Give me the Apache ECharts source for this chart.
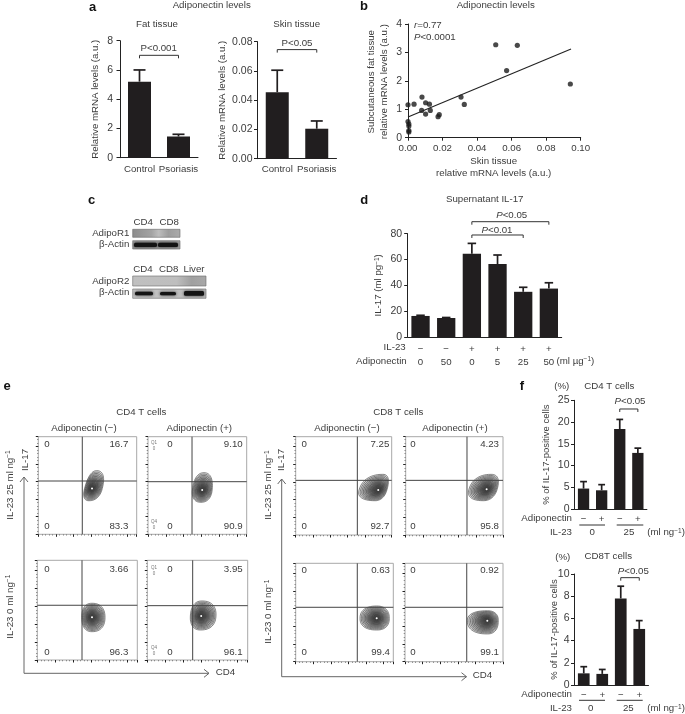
<!DOCTYPE html>
<html><head><meta charset="utf-8">
<style>html,body{margin:0;padding:0;background:#fff}#c{width:685px;height:714px;filter:blur(0.5px)}</style>
<script src="https://cdn.jsdelivr.net/npm/echarts@6/dist/echarts.min.js"></script></head>
<body><div id="c"></div>
<script>
// ---------- data ----------
const fatCategories = ['Control','Psoriasis'];
const fatMeans = [5.2,1.45];
const fatUpper = [6.0,1.6];
const skinMeans = [0.0455,0.0205];
const skinUpper = [0.0605,0.0258];
const scatterSkin = [0.0508,0.0633,0.0571,0.094,0.0307,0.0326,0.0081,0.0102,0.0124,0.0035,0,0.0079,0.0129,0.0102,0.0181,0.0174,0,0.0005,0.0005,0.0005,0.0005];
const scatterFat  = [3.27,3.25,2.36,1.89,1.43,1.17,1.43,1.23,1.18,1.18,1.16,0.96,0.96,0.83,0.81,0.74,0.57,0.48,0.41,0.25,0.2];
const fitLine = [[0,0.73],[0.0944,3.12]];
const il23Flags = ['−','−','+','+','+','+'];
const adipoDoses = ['0','50','0','5','25','50'];
const il17Means = [16.3,14.7,64.5,56.5,35,37.5];
const il17Upper = [16.8,15.1,72.5,63.5,38.5,42];
const signs = ['−','+','−','+'];
const cd4Means = [4.7,4.3,18.4,12.9];
const cd4Upper = [6.3,5.6,20.6,14.0];
const cd8Means = [1.05,1.0,7.8,5.05];
const cd8Upper = [1.65,1.4,8.9,5.8];
// flow plots: gate [x,y], outer contour [xmin,xmax,ymin,ymax], peak [x,y], lean
const gates = [[44.7,54.6],[44.6,53.9],[44.7,54.9],[45.2,54.5],[64.2,55.6],[63,55.6],[63.1,55.3],[63,55.3]];
const outers = [[47,65,34.4,65.2],[45,65,32.8,63.1],[44.4,67.7,28.4,56.9],[42.9,68.4,30.1,59.2],[66,95,34.9,61.7],[65,94,34.9,61.7],[65.9,95.9,32.2,56.6],[63.6,95.2,28.2,51.8]];
const peaks = [[54.6,46.8],[54.9,45.4],[54.7,42.8],[53.7,44.1],[86,45.8],[83.2,46.5],[83,44.1],[84,41.7]];
const leans = [0.25,0.1,0,0.05,0.3,0.3,0,0];
const ringScales = [1,0.92,0.84,0.76,0.68,0.6,0.53,0.47,0.41,0.35,0.3,0.25,0.2,0.15,0.1];
const upperRight = ['16.7','9.10','3.66','3.95','7.25','4.23','0.63','0.92'];
const lowerRight = ['83.3','90.9','96.3','96.1','92.7','95.8','99.4','99.1'];

// ---------- layout ----------
const FONT = 'Liberation Sans, Arial, sans-serif';
const INK = '#3c3c3c', BAR = '#211e1f';
const grid=[], xAxis=[], yAxis=[], series=[], graphic=[];
const supStyle = {fontSize:6.5, verticalAlign:'top', fill:INK, color:INK, fontFamily:FONT};
function richFor(size){return {
  i:{fontStyle:'italic',fontSize:size,fill:INK,color:INK,fontFamily:FONT},
  n:{fontSize:size,fill:INK,color:INK,fontFamily:FONT},
  s:supStyle};}
function T(x,y,text,o){o=o||{};const size=o.size||9.7;
  graphic.push({type:'text',x,y,rotation:o.rot||0,silent:true,z:50,style:{text,fontFamily:FONT,fontSize:size,fontWeight:o.weight||'normal',fill:o.fill||INK,
    align:o.align||'center',verticalAlign:'middle',rich:richFor(size)}});}
function L(points,o){o=o||{};graphic.push({type:'polyline',silent:true,z:40,shape:{points},style:{stroke:o.stroke||'#666',lineWidth:o.w||1,fill:null}});}

function barPanel(c){
  const gi=grid.length;
  grid.push({left:c.left,top:c.top,width:c.width,height:c.height});
  xAxis.push({gridIndex:gi,type:'category',data:c.cats,
    axisLine:{lineStyle:{color:'#222',width:1}},axisTick:{alignWithLabel:true,length:c.tick||2.5,lineStyle:{color:'#222'}},
    axisLabel:{interval:0,color:INK,fontFamily:FONT,fontSize:9.7,margin:c.labelMargin||5,lineHeight:c.lineHeight||12}});
  yAxis.push({gridIndex:gi,type:'value',min:0,max:c.max,interval:c.step,splitLine:{show:false},
    axisLine:{show:true,lineStyle:{color:'#222',width:1}},axisTick:{show:true,length:3.5,lineStyle:{color:'#222'}},
    axisLabel:{color:INK,fontFamily:FONT,fontSize:10.5,margin:c.tickMargin||5.5,formatter:c.fmt},
    name:c.name,nameLocation:'middle',nameGap:c.nameGap,nameMoveOverlap:false,nameTextStyle:{color:INK,fontFamily:FONT,fontSize:c.nameSize||9.7,rich:{s:{fontSize:6.5,verticalAlign:'top',color:INK,fontFamily:FONT},n:{fontSize:9.7,color:INK,fontFamily:FONT}}}});
  series.push({type:'bar',xAxisIndex:gi,yAxisIndex:gi,barWidth:c.barWidth,data:c.means,itemStyle:{color:BAR},silent:true});
  series.push({type:'custom',xAxisIndex:gi,yAxisIndex:gi,silent:true,encode:{x:0,y:1},z:3,
    data:c.means.map((m,i)=>[i,c.upper[i],m]),
    renderItem(p,api){const t=api.coord([api.value(0),api.value(1)]),b=api.coord([api.value(0),api.value(2)]);
      const st={stroke:BAR,lineWidth:c.errW||1.7,fill:null};
      return {type:'group',children:[
        {type:'line',shape:{x1:t[0],y1:t[1],x2:b[0],y2:b[1]},style:st},
        {type:'line',shape:{x1:t[0]-c.cap/2,y1:t[1],x2:t[0]+c.cap/2,y2:t[1]},style:st}]};}});
  if(c.brackets) series.push({type:'custom',xAxisIndex:gi,yAxisIndex:gi,silent:true,encode:{x:0,y:1},z:3,
    data:c.brackets,
    renderItem(p,api){const a=api.coord([api.value(0),api.value(1)]),b=api.coord([api.value(2),api.value(1)]);
      return {type:'polyline',shape:{points:[[a[0],a[1]+3],a,b,[b[0],b[1]+3]]},style:{stroke:'#333',lineWidth:1,fill:null}};}});
}

// panel a
barPanel({left:120,top:40.7,width:78,height:117,cats:fatCategories,means:fatMeans,upper:fatUpper,max:8,step:2,barWidth:23,cap:12,name:'Relative mRNA levels (a.u.)',nameGap:20,labelMargin:6,tickMargin:7,brackets:[[0,7.0,1]]});
barPanel({left:257.5,top:41.7,width:79,height:117,cats:fatCategories,means:skinMeans,upper:skinUpper,max:0.08,step:0.02,barWidth:23,cap:12,name:'Relative mRNA levels (a.u.)',nameGap:30,labelMargin:5,tickMargin:5,fmt:v=>v.toFixed(2),brackets:[[0,0.0746,1]]});
T(92.5,7,'a',{size:13,weight:'bold',fill:'#111'});
T(211.7,5,'Adiponectin levels');T(157,24.3,'Fat tissue');T(296.7,24.3,'Skin tissue');
T(158.7,48,'P<0.001');T(297,43,'P<0.05');

// panel b
{const gi=grid.length;
 grid.push({left:408,top:24,width:172.7,height:113.7});
 xAxis.push({gridIndex:gi,type:'value',min:0,max:0.1,interval:0.02,splitLine:{show:false},axisLine:{lineStyle:{color:'#222'},onZero:false},axisTick:{length:3,lineStyle:{color:'#222'}},
   axisLabel:{color:INK,fontFamily:FONT,fontSize:9.7,margin:6,formatter:v=>v.toFixed(2)}});
 yAxis.push({gridIndex:gi,type:'value',min:0,max:4,interval:1,splitLine:{show:false},axisLine:{show:true,lineStyle:{color:'#222'},onZero:false},axisTick:{show:true,length:3,lineStyle:{color:'#222'}},
   axisLabel:{color:INK,fontFamily:FONT,fontSize:10.5,margin:6}});
 series.push({type:'scatter',xAxisIndex:gi,yAxisIndex:gi,clip:false,silent:true,symbolSize:5.2,itemStyle:{color:'#1c1c1c'},data:scatterSkin.map((x,i)=>[x,scatterFat[i]])});
 series.push({type:'line',xAxisIndex:gi,yAxisIndex:gi,silent:true,symbol:'none',lineStyle:{color:'#222',width:1.1},data:fitLine});
}
T(364,6,'b',{size:13,weight:'bold',fill:'#111'});
T(495.7,5,'Adiponectin levels');
T(414,25,'{i|r}{n|=0.77}',{align:'left'});T(414,37,'{i|P}{n|<0.0001}',{align:'left'});
T(493.7,161.7,'Skin tissue');T(493.7,173.7,'relative mRNA levels (a.u.)');
T(371.7,81.7,'Subcutaneous fat tissue',{rot:Math.PI/2});T(384,81.7,'relative mRNA levels (a.u.)',{rot:Math.PI/2});

// panel c : blots
function blot(x,y,w,h,stops,bands){
  graphic.push({type:'rect',silent:true,z:10,shape:{x,y,width:w,height:h},style:{fill:{type:'linear',x:0,y:0,x2:1,y2:0,colorStops:stops},stroke:'#6a6a6a',lineWidth:0.6}});
  (bands||[]).forEach(b=>graphic.push({type:'rect',silent:true,z:11,shape:{x:b[0],y:b[1],width:b[2],height:b[3],r:1.5},style:{fill:'#141414',shadowBlur:3,shadowColor:'#222'}}));
}
blot(132.7,229.3,47.3,8,[{offset:0,color:'#8d8d8d'},{offset:.4,color:'#a3a3a3'},{offset:.55,color:'#bdbdbd'},{offset:.75,color:'#9d9d9d'},{offset:1,color:'#ababab'}]);
blot(132.7,240.7,47.3,8.3,[{offset:0,color:'#9a9a9a'},{offset:1,color:'#a5a5a5'}],[[134,242.7,23,4.2],[158,242.7,20,4.2]]);
blot(132.7,276,73.3,10,[{offset:0,color:'#c0c0c0'},{offset:.6,color:'#bebebe'},{offset:.8,color:'#a0a0a0'},{offset:1,color:'#a8a8a8'}]);
blot(132.7,289,73.3,9.3,[{offset:0,color:'#c4c4c4'},{offset:1,color:'#bcbcbc'}],[[135,291.7,18,3.6],[160,292,16,3.2],[184,291,20,4.8]]);
T(91.7,200,'c',{size:13,weight:'bold',fill:'#111'});
T(143.3,222.7,'CD4');T(169.3,222.7,'CD8');
T(129.3,233.3,'AdipoR1',{align:'right'});T(129.3,244.3,'β-Actin',{align:'right'});
T(143,269.3,'CD4');T(168.7,269.3,'CD8');T(194,269.3,'Liver');
T(129.3,281,'AdipoR2',{align:'right'});T(129.3,292.7,'β-Actin',{align:'right'});

// panel d
barPanel({left:407.7,top:233.7,width:154,height:103.3,cats:il23Flags.map((f,i)=>f+'\n'+adipoDoses[i]),means:il17Means,upper:il17Upper,max:80,step:20,barWidth:18.3,cap:8.5,name:'IL-17 (ml pg{s|−1})',nameGap:24,labelMargin:5.5,lineHeight:13.3,brackets:[[2,79,4],[2,89.3,5]]});
T(364.3,200,'d',{size:13,weight:'bold',fill:'#111'});
T(484.7,199.3,'Supernatant IL-17');
T(511.7,215,'{i|P}{n|<0.05}');T(497,230,'{i|P}{n|<0.01}');
T(405.7,347.7,'IL-23',{align:'right'});T(406.7,361,'Adiponectin',{align:'right'});
T(556.5,361,'{n|(ml µg}{s|−1}{n|)}',{align:'left'});

// panel e : flow plots
const flowRects=[[38.3,436.7,98.4,97.6],[148,436.7,98.7,97.6],[37.3,560.3,100,99.7],[147.3,560.3,100.4,99.7],[295.7,436.7,96,98.3],[405.7,436.7,97.3,98.3],[295.7,563.3,97.6,98.4],[405,563.3,98,98.4]];
flowRects.forEach((r,k)=>{
  const gi=grid.length;
  grid.push({left:r[0],top:r[1],width:r[2],height:r[3],show:true,borderColor:'#a8a8a8',borderWidth:1,backgroundColor:'#fff'});
  const ax={gridIndex:gi,type:'value',min:0,max:100,interval:18,splitLine:{show:false},minorSplitLine:{show:false},axisLabel:{show:false},axisLine:{show:false},
    axisTick:{show:true,length:2.5,lineStyle:{color:'#222',width:1}},minorTick:{show:true,splitNumber:5,length:1.3,lineStyle:{color:'#555',width:.6}}};
  xAxis.push(Object.assign({},ax));yAxis.push(Object.assign({},ax));
  const o=outers[k],pk=peaks[k],g=gates[k],lean=leans[k];
  series.push({type:'custom',xAxisIndex:gi,yAxisIndex:gi,silent:true,data:[[pk[0],pk[1]]],encode:{x:0,y:1},
    renderItem(p,api){
      const kids=[];
      ringScales.forEach(s=>{
        const pts=[];
        for(let a=0;a<60;a++){const t=a/60*Math.PI*2,co0=Math.cos(t),si0=Math.sin(t);
          const co=Math.sign(co0)*Math.pow(Math.abs(co0),0.85),si=Math.sign(si0)*Math.pow(Math.abs(si0),0.85);
          const dx=co>0?(o[1]-pk[0])*co:(pk[0]-o[0])*co, dy=si>0?(o[3]-pk[1])*si:(pk[1]-o[2])*si;
          pts.push(api.coord([pk[0]+s*(dx+lean*dy),pk[1]+s*dy]));}
        kids.push({type:'polygon',shape:{points:pts},style:{stroke:'#3a3a3a',lineWidth:.6,fill:'rgba(30,30,30,0.1)'}});
      });
      const c=api.coord(pk);
      kids.push({type:'circle',shape:{cx:c[0],cy:c[1],r:1},style:{fill:'#fff'}});
      const a=api.coord([g[0],0]),b=api.coord([g[0],100]),d=api.coord([0,g[1]]),e=api.coord([100,g[1]]);
      const st={stroke:'#444',lineWidth:1,fill:null};
      kids.push({type:'line',shape:{x1:a[0],y1:a[1],x2:b[0],y2:b[1]},style:st});
      kids.push({type:'line',shape:{x1:d[0],y1:d[1],x2:e[0],y2:e[1]},style:st});
      return {type:'group',children:kids};
    }});
  const left=[47,170,47,170,304.3,413,304.3,413][k], right=[128.3,242.7,128.3,242.7,389.3,499,390,499][k];
  const ty=[444.3,444.3,569.3,569.3,444.3,444.3,570,570][k], by=[526.7,526.7,652.7,652.7,526.7,526.7,652.7,652.7][k];
  T(left,ty,'0');T(right,ty,upperRight[k],{align:'right'});T(left,by,'0');T(right,by,lowerRight[k],{align:'right'});
  if(k==1||k==3){const qx=154;T(qx,ty-1.5,'Q1',{size:4.5,fill:'#777'});T(qx,ty+4.5,'0',{size:4.5,fill:'#777'});
    const q4=k==1?522:648;T(qx,q4,'Q4',{size:4.5,fill:'#777'});T(qx,q4+6,'0',{size:4.5,fill:'#777'});}
});
T(7,386.7,'e',{size:13,weight:'bold',fill:'#111'});
T(141.3,412.3,'CD4 T cells');T(84,428.3,'Adiponectin (−)');T(199.3,428.3,'Adiponectin (+)');
T(398.3,412.3,'CD8 T cells');T(347,428.3,'Adiponectin (−)');T(455,428.3,'Adiponectin (+)');
const up=Math.PI/2;
T(10,485,'{n|IL-23 25 ml ng}{s|−1}',{rot:up});T(25,460,'IL-17',{rot:up});T(10,606.7,'{n|IL-23 0 ml ng}{s|−1}',{rot:up});
T(268.3,485,'{n|IL-23 25 ml ng}{s|−1}',{rot:up});T(281.7,460,'IL-17',{rot:up});T(268.3,611.7,'{n|IL-23 0 ml ng}{s|−1}',{rot:up});
L([[24,477],[24,673.3],[209,673.3]]);L([[20,482],[24,477],[28,482]]);L([[204,669.3],[209,673.3],[204,677.3]]);
L([[281.7,479],[281.7,676.7],[466.5,676.7]]);L([[277.7,484],[281.7,479],[285.7,484]]);L([[461.5,672.7],[466.5,676.7],[461.5,680.7]]);
T(215.7,672.7,'CD4',{align:'left'});T(472.7,675.7,'CD4',{align:'left'});

// panel f
barPanel({left:574.5,top:400.3,width:72.4,height:108.7,cats:signs,means:cd4Means,upper:cd4Upper,max:25,step:5,barWidth:11.3,cap:6.8,name:'% of IL-17-positive cells',nameGap:23,nameSize:9.5,labelMargin:4.5,tickMargin:5,brackets:[[2,23,3]]});
barPanel({left:574.5,top:574,width:74,height:111,cats:signs,means:cd8Means,upper:cd8Upper,max:10,step:2,barWidth:11.7,cap:6.8,name:'% of IL-17-positive cells',nameGap:15.5,nameSize:9.5,labelMargin:4,tickMargin:5,brackets:[[2,9.67,3]]});
T(522,386.7,'f',{size:13,weight:'bold',fill:'#111'});
T(561.7,386.7,'(%)');T(609.3,386.7,'CD4 T cells');T(630,401.7,'{i|P}{n|<0.05}');
T(572,518.7,'Adiponectin',{align:'right'});T(572,532.3,'IL-23',{align:'right'});
L([[579.3,525],[605,525]],{stroke:'#333'});L([[616.7,525],[643.3,525]],{stroke:'#333'});
T(592.3,532.3,'0');T(629,532.3,'25');T(647.3,532.3,'{n|(ml ng}{s|−1}{n|)}',{align:'left'});
T(562.7,557.7,'(%)');T(608.3,556,'CD8T cells');T(633.3,571.7,'{i|P}{n|<0.05}');
T(572,694,'Adiponectin',{align:'right'});T(572,708.3,'IL-23',{align:'right'});
L([[579,700.3],[605,700.3]],{stroke:'#333'});L([[616.7,700.3],[642.7,700.3]],{stroke:'#333'});
T(590.7,708.3,'0');T(628.3,708.3,'25');T(647.3,708.3,'{n|(ml ng}{s|−1}{n|)}',{align:'left'});

const chart=echarts.init(document.getElementById('c'),null,{renderer:'canvas'});
chart.setOption({animation:false,backgroundColor:'#fff',textStyle:{fontFamily:FONT},grid,xAxis,yAxis,series,graphic:{elements:graphic}});
</script></body></html>
